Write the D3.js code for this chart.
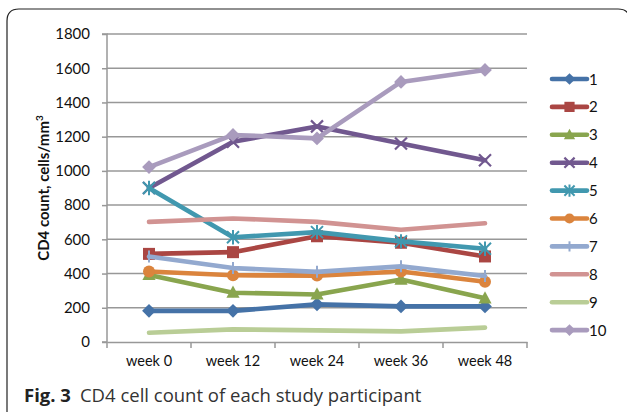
<!DOCTYPE html>
<html><head><meta charset="utf-8">
<script src="https://cdn.jsdelivr.net/npm/d3@7"></script>
<style>body{margin:0;background:#fff}svg{display:block}</style>
</head><body>
<svg id="c" width="627" height="414"></svg>
<script>
const categories = ["week 0","week 12","week 24","week 36","week 48"];
const seriesNames = ["1","2","3","4","5","6","7","8","9","10"];
const s1 = [182,182,220,208,208];
const s2 = [515,525,618,580,500];
const s3 = [392,288,278,365,255];
const s4 = [900,1170,1260,1160,1062];
const s5 = [900,612,642,588,545];
const s6 = [412,390,388,412,352];
const s7 = [500,432,410,442,386];
const s8 = [702,722,702,656,694];
const s9 = [54,74,68,62,84];
const s10 = [1022,1210,1190,1520,1590];
const yTicks = [0,200,400,600,800,1000,1200,1400,1600,1800];
const allSeries = [s1,s2,s3,s4,s5,s6,s7,s8,s9,s10];
const colors = ["#4572A7","#AA4643","#89A54E","#71588F","#4198AF","#DB843D","#93A9CF","#D19392","#B9CD96","#A99BBD"];
const markers = ["diamond","square","triangle","x","star","circle","plus","none","none","diamond"];

const svg = d3.select("#c");
const font = "Lato, 'Noto Sans', sans-serif";
// frame
svg.append("path").attr("d","M7,412 L7,21 Q7,9 19,9 L618,9 Q630,9 630,21 L630,420").attr("fill","none").attr("stroke","#222").attr("stroke-width",1.2);

const L=107,R=527,T=34,B=342;
const x = d3.scaleBand().domain(categories).range([L,R]);
const y = d3.scaleLinear().domain([0,1800]).range([B,T]);

// gridlines
svg.append("g").selectAll("line").data(yTicks.filter(d=>d>0)).join("line")
  .attr("x1",L).attr("x2",R).attr("y1",d=>y(d)).attr("y2",d=>y(d))
  .attr("stroke","#989898").attr("stroke-width",1.5);

const ya = svg.append("g").attr("transform",`translate(${L},0)`)
  .call(d3.axisLeft(y).tickValues(yTicks).tickSize(5).tickPadding(12).tickFormat(d3.format("d")));
ya.select(".domain").attr("stroke","#989898").attr("stroke-width",1.5).attr("d",`M-5,${T}H0V${B}H-5`);
ya.selectAll(".tick line").attr("stroke","#989898").attr("stroke-width",1.5);
ya.selectAll("text").attr("font-family",font).attr("font-size",15).attr("fill","#111");

const xa = svg.append("g").attr("transform",`translate(0,${B})`)
  .call(d3.axisBottom(x).tickSize(0).tickPadding(14));
xa.select(".domain").attr("stroke","#989898").attr("stroke-width",1.5);
xa.selectAll("text").attr("font-family",font).attr("font-size",14.5).attr("fill","#111");
// x tick marks at band boundaries
const bounds = categories.map(c=>x(c)).concat([R]);
svg.append("g").selectAll("line").data(bounds).join("line")
  .attr("x1",d=>d).attr("x2",d=>d).attr("y1",B).attr("y2",B+6)
  .attr("stroke","#989898").attr("stroke-width",1.5);

// y label
const yl = svg.append("text").attr("transform",`translate(48.5,${(T+B)/2}) rotate(-90)`)
  .attr("text-anchor","middle").attr("font-family",font).attr("font-weight","bold").attr("font-size",15).attr("fill","#111");
yl.append("tspan").text("CD4 count, cells/mm");
yl.append("tspan").attr("dy",-6).attr("font-size",10).text("3");

function marker(g, type, color, cx, cy, sc){
  sc = sc||1;
  const s = 6*sc;
  if(type==="diamond") g.append("path").attr("d",`M${cx},${cy-s*1.15}L${cx+s*1.15},${cy}L${cx},${cy+s*1.15}L${cx-s*1.15},${cy}Z`).attr("fill",color);
  else if(type==="square") g.append("rect").attr("x",cx-s).attr("y",cy-s).attr("width",2*s).attr("height",2*s).attr("fill",color);
  else if(type==="triangle") g.append("path").attr("d",`M${cx},${cy-s*1.2}L${cx+s*1.1},${cy+s*0.85}L${cx-s*1.1},${cy+s*0.85}Z`).attr("fill",color);
  else if(type==="circle") g.append("circle").attr("cx",cx).attr("cy",cy).attr("r",s).attr("fill",color);
  else if(type==="x") g.append("path").attr("d",`M${cx-s},${cy-s}L${cx+s},${cy+s}M${cx+s},${cy-s}L${cx-s},${cy+s}`).attr("stroke",color).attr("stroke-width",2.2);
  else if(type==="star") g.append("path").attr("d",`M${cx-s},${cy-s}L${cx+s},${cy+s}M${cx+s},${cy-s}L${cx-s},${cy+s}M${cx},${cy-s*1.2}L${cx},${cy+s*1.2}`).attr("stroke",color).attr("stroke-width",2);
  else if(type==="plus") g.append("path").attr("d",`M${cx},${cy-s}L${cx},${cy+s}`).attr("stroke",color).attr("stroke-width",2);
}

const line = d3.line().x((d,i)=>x(categories[i])+x.bandwidth()/2).y(d=>y(d));
allSeries.forEach((s,k)=>{
  const g = svg.append("g");
  g.append("path").attr("d",line(s)).attr("fill","none").attr("stroke",colors[k]).attr("stroke-width",4.6).attr("stroke-linejoin","round").attr("stroke-linecap","round");
  s.forEach((v,i)=>marker(g,markers[k],colors[k],x(categories[i])+x.bandwidth()/2,y(v)));
});

// legend
const lg = svg.append("g");
seriesNames.forEach((n,k)=>{
  const ly = 79 + k*27.9;
  lg.append("line").attr("x1",552).attr("x2",587).attr("y1",ly).attr("y2",ly).attr("stroke",colors[k]).attr("stroke-width",4.6).attr("stroke-linecap","round");
  marker(lg,markers[k],colors[k],569.5,ly,0.85);
  lg.append("text").attr("x",589).attr("y",ly+5.5).attr("font-family",font).attr("font-size",15).attr("fill","#111").text(n);
});

// caption
const cap = svg.append("text").attr("x",24).attr("y",402).attr("font-family","'Open Sans', 'Noto Sans', sans-serif").attr("font-size",18.5).attr("fill","#222");
cap.append("tspan").attr("font-weight","bold").text("Fig. 3");
cap.append("tspan").attr("dx",9).attr("fill","#333").text("CD4 cell count of each study participant");
</script>
</body></html>
